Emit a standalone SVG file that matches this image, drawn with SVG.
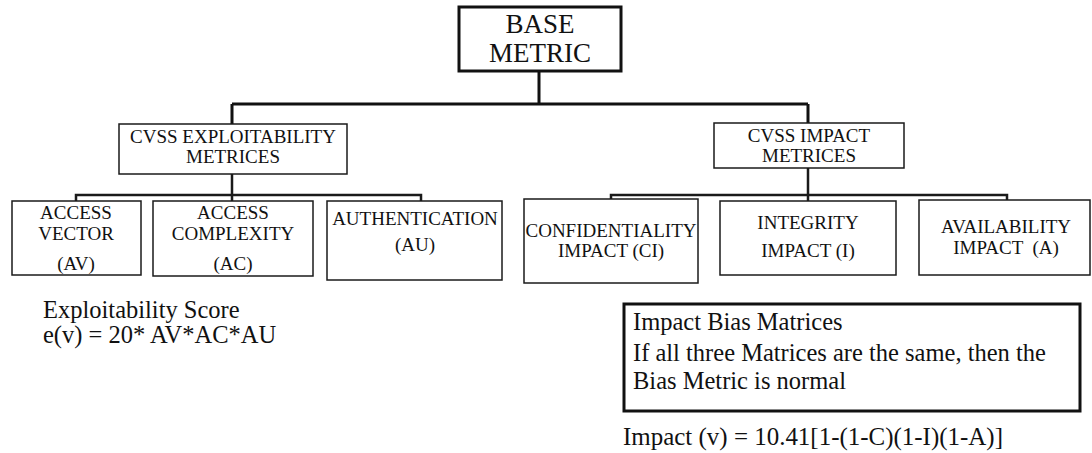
<svg xmlns="http://www.w3.org/2000/svg" width="1092" height="453" viewBox="0 0 1092 453">
  <style>
    text { font-family: "Liberation Serif", "Times New Roman", serif; fill: #111; }
    .box { fill: #fff; stroke: #1a1a1a; stroke-width: 1.5; }
    .heavy { fill: #fff; stroke: #111; stroke-width: 3; }
    .lbl { font-size: 19px; text-anchor: middle; }
    .big { font-size: 27px; text-anchor: middle; }
    .note { font-size: 24.5px; }
    .trunk { fill: none; stroke: #111; stroke-width: 3; }
    .branch { fill: none; stroke: #1a1a1a; stroke-width: 2.5; }
  </style>

  <rect width="1092" height="453" fill="#fff"/>

  <g id="connectors">
    <!-- root to the two metric groups -->
    <path class="trunk" d="M539 72 V104 M232 104 H808 M232 104 V124 M808 104 V123"/>
    <!-- exploitability group to its children -->
    <path class="branch" d="M232 174 V201 M76 201 V195 H421 V201"/>
    <!-- impact group to its children -->
    <path class="branch" d="M808 168 V201 M611 199 V195 H1007 V200"/>
  </g>

  <g id="base-metric">
    <rect class="heavy" x="459" y="7" width="162" height="64"/>
    <text class="big" x="540" y="33">BASE</text>
    <text class="big" x="540" y="62">METRIC</text>
  </g>

  <g id="cvss-exploitability">
    <rect class="box" x="119" y="124" width="228" height="50"/>
    <text class="lbl" x="233" y="143">CVSS EXPLOITABILITY</text>
    <text class="lbl" x="233" y="163">METRICES</text>
  </g>

  <g id="cvss-impact">
    <rect class="box" x="714" y="123" width="190" height="45"/>
    <text class="lbl" x="809" y="142">CVSS IMPACT</text>
    <text class="lbl" x="809" y="162">METRICES</text>
  </g>

  <g id="access-vector">
    <rect class="box" x="12" y="201" width="129" height="74"/>
    <text class="lbl" x="76" y="219">ACCESS</text>
    <text class="lbl" x="76" y="240">VECTOR</text>
    <text class="lbl" x="76" y="270">(AV)</text>
  </g>

  <g id="access-complexity">
    <rect class="box" x="153" y="201" width="160" height="75"/>
    <text class="lbl" x="233" y="219">ACCESS</text>
    <text class="lbl" x="233" y="240">COMPLEXITY</text>
    <text class="lbl" x="233" y="270">(AC)</text>
  </g>

  <g id="authentication">
    <rect class="box" x="327" y="201" width="175" height="79"/>
    <text class="lbl" x="415" y="225">AUTHENTICATION</text>
    <text class="lbl" x="415" y="251">(AU)</text>
  </g>

  <g id="confidentiality-impact">
    <rect class="box" x="524" y="199" width="174" height="84"/>
    <text class="lbl" x="611" y="237">CONFIDENTIALITY</text>
    <text class="lbl" x="611" y="257">IMPACT (CI)</text>
  </g>

  <g id="integrity-impact">
    <rect class="box" x="720" y="201" width="176" height="74"/>
    <text class="lbl" x="808" y="229">INTEGRITY</text>
    <text class="lbl" x="808" y="257">IMPACT (I)</text>
  </g>

  <g id="availability-impact">
    <rect class="box" x="919" y="200" width="171" height="75"/>
    <text class="lbl" x="1006" y="233">AVAILABILITY</text>
    <text class="lbl" x="1006" y="254" xml:space="preserve">IMPACT  (A)</text>
  </g>

  <g id="exploitability-score">
    <text class="note" x="43" y="318">Exploitability Score</text>
    <text class="note" x="43" y="343">e(v) = 20* AV*AC*AU</text>
  </g>

  <g id="impact-bias">
    <rect class="heavy" x="624" y="304" width="456" height="107"/>
    <text class="note" x="633" y="330">Impact Bias Matrices</text>
    <text class="note" x="633" y="361">If all three Matrices are the same, then the</text>
    <text class="note" x="633" y="389">Bias Metric is normal</text>
  </g>

  <g id="impact-formula">
    <text class="note" x="623" y="445" textLength="380" lengthAdjust="spacingAndGlyphs">Impact (v) = 10.41[1-(1-C)(1-I)(1-A)]</text>
  </g>
</svg>
